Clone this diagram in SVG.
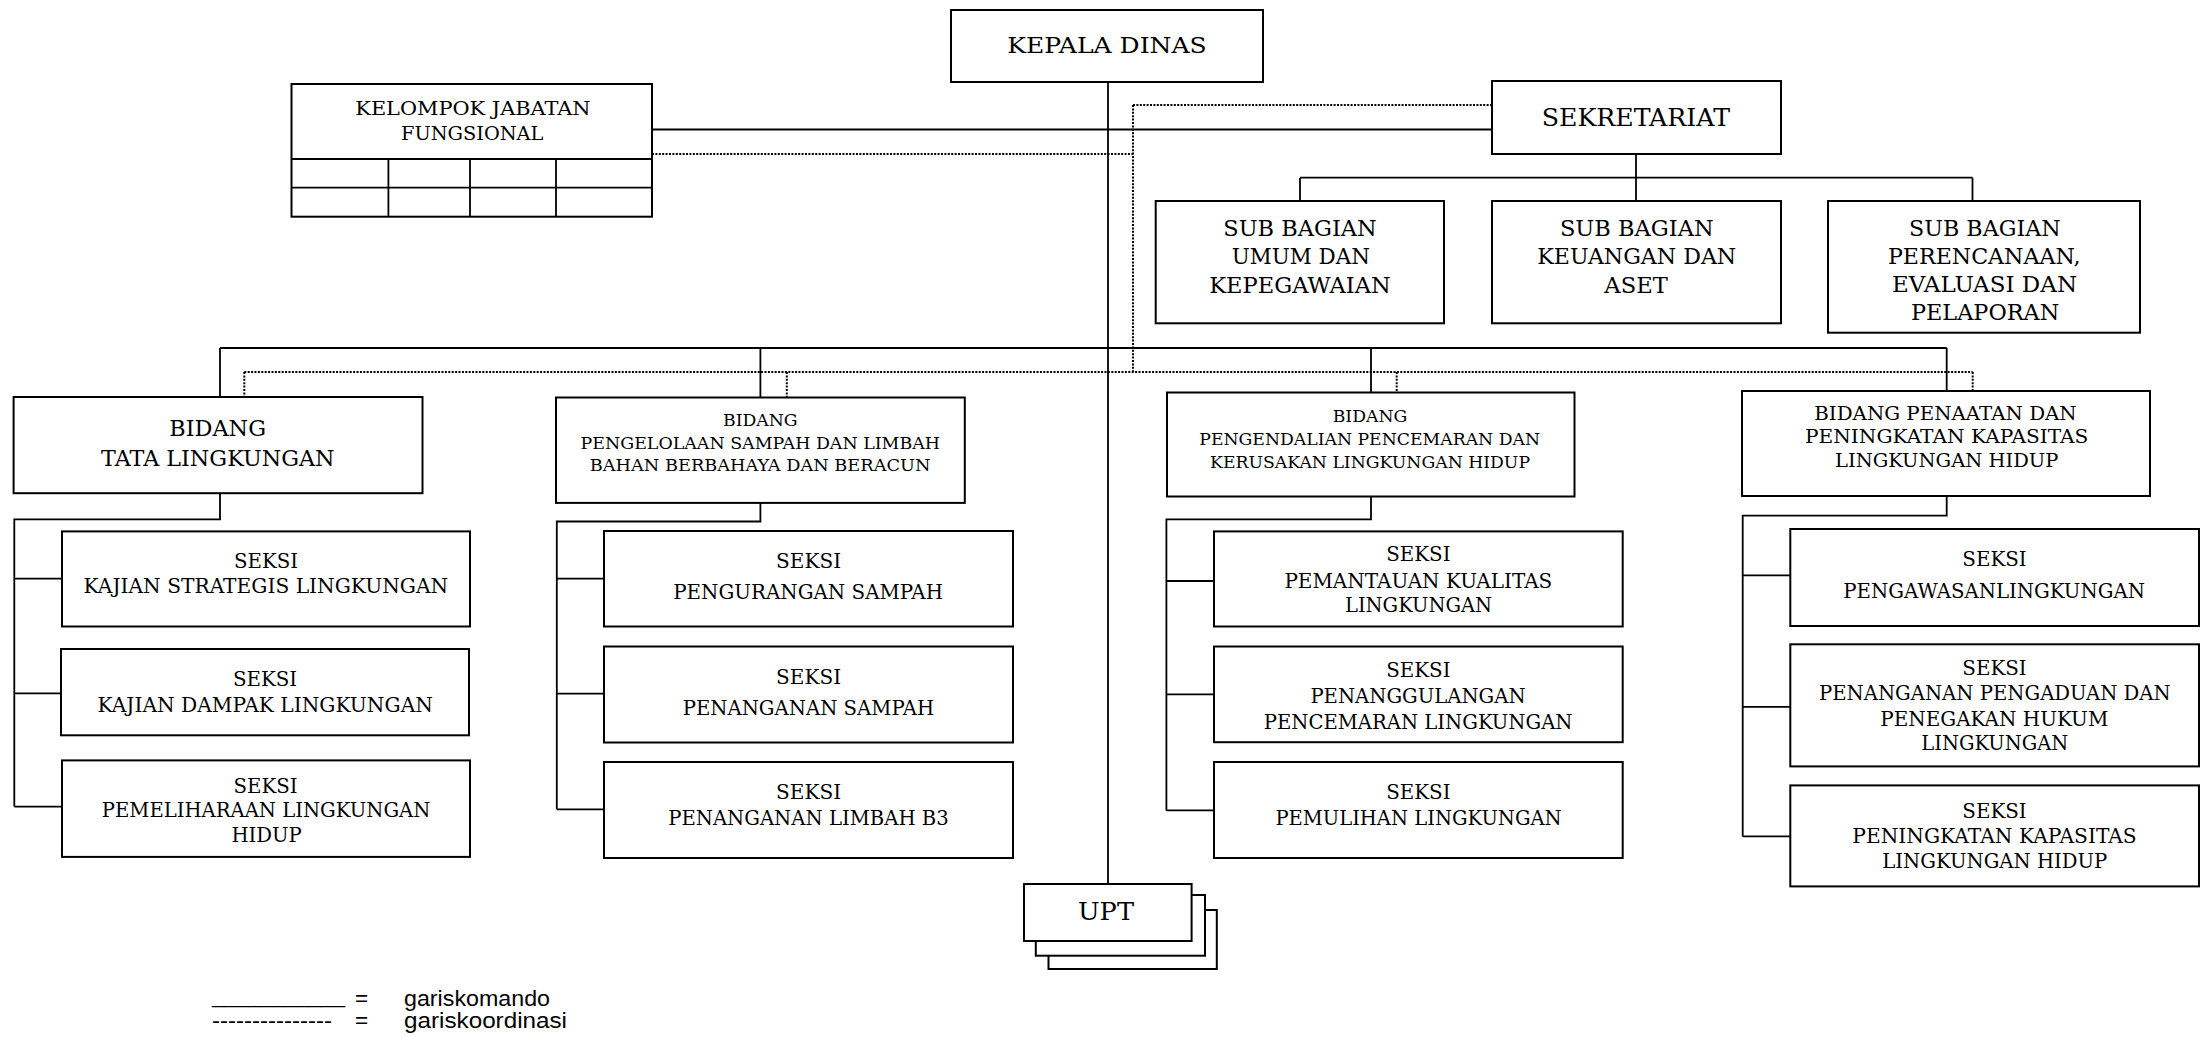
<svg xmlns="http://www.w3.org/2000/svg" width="2206" height="1037" viewBox="0 0 2206 1037">
<style>
.box{fill:#fff;stroke:#000;stroke-width:2}
.ln{fill:none;stroke:#000;stroke-width:1.8}
.dt{fill:none;stroke:#000;stroke-width:2;stroke-dasharray:2 1.4}
text{font-family:"DejaVu Serif","Liberation Serif",serif;fill:#000}
.f22{font-size:22px}.f25{font-size:25px}.f18{font-size:18.3px}.f215{font-size:21.5px}
.f217{font-size:21.7px}.f165{font-size:16.5px}.f185{font-size:18.5px}.f20{font-size:20px}.f24{font-size:24px}
.lg{font-family:"Liberation Sans",Arial,sans-serif;font-size:22.5px}
</style>
<rect x="0" y="0" width="2206" height="1037" fill="#fff"/>

<g id="connectors">
  <!-- command lines -->
  <path class="ln" d="M1108,82 V884"/>
  <path class="ln" d="M652,129.5 H1492"/>
  <path class="ln" d="M1636,154 V201 M1300,177.7 H1972.5 M1300,177.7 V201 M1972.5,177.7 V201"/>
  <path class="ln" d="M220,348 H1946.7 M220,348 V397 M760.4,348 V397.5 M1371,348 V393 M1946.7,348 V391"/>
  <path class="ln" d="M220,493 V519.4 H14.3 V806.6 M14.3,578.6 H62 M14.3,693.3 H61 M14.3,806.6 H62"/>
  <path class="ln" d="M760.4,503 V521.5 H556.8 V809.3 M556.8,578.6 H604 M556.8,693.6 H604 M556.8,809.3 H604"/>
  <path class="ln" d="M1371,496.5 V519.4 H1166.4 V810.4 M1166.4,581 H1214 M1166.4,694.3 H1214 M1166.4,810.4 H1214"/>
  <path class="ln" d="M1946.7,496 V515.7 H1742.7 V836.4 M1742.7,575.4 H1790.3 M1742.7,706.8 H1790.3 M1742.7,836.4 H1790.3"/>
  <!-- coordination lines -->
  <path class="dt" d="M652,154 H1133 M1133,105 V372 M1133,105 H1492"/>
  <path class="dt" d="M244.3,372 H1972.7 M244.3,372 V397 M786.8,372 V397.5 M1396.7,372 V393 M1972.7,372 V391"/>
</g>

<g id="kepala-dinas">
  <rect class="box" x="951" y="10" width="312" height="72"/>
  <text class="f22" x="1007.3" y="53.3" textLength="199.4" lengthAdjust="spacingAndGlyphs">KEPALA DINAS</text>
</g>

<g id="kelompok-jabatan-fungsional">
  <rect class="box" x="291.5" y="84" width="360.5" height="132.7"/>
  <path class="ln" d="M291.5,159 H652 M291.5,187.7 H652 M388.4,159 V216.7 M470,159 V216.7 M556,159 V216.7"/>
  <text class="f18" x="355.3" y="115" textLength="235.3" lengthAdjust="spacingAndGlyphs">KELOMPOK JABATAN</text>
  <text class="f18" x="401" y="140" textLength="142.4" lengthAdjust="spacingAndGlyphs">FUNGSIONAL</text>
</g>

<g id="sekretariat">
  <rect class="box" x="1492" y="81" width="289" height="73"/>
  <text class="f25" x="1541.7" y="125.7" textLength="188.3" lengthAdjust="spacingAndGlyphs">SEKRETARIAT</text>
</g>

<g id="sub-bagian-umum">
  <rect class="box" x="1155.7" y="201" width="288.3" height="122.3"/>
  <text class="f215" x="1223.3" y="235.7" textLength="153.4" lengthAdjust="spacingAndGlyphs">SUB BAGIAN</text>
  <text class="f215" x="1231.7" y="264" textLength="138.3" lengthAdjust="spacingAndGlyphs">UMUM DAN</text>
  <text class="f215" x="1209.3" y="293.3" textLength="181.4" lengthAdjust="spacingAndGlyphs">KEPEGAWAIAN</text>
</g>

<g id="sub-bagian-keuangan">
  <rect class="box" x="1492" y="201" width="289" height="122.3"/>
  <text class="f215" x="1559.9" y="235.5" textLength="153.8" lengthAdjust="spacingAndGlyphs">SUB BAGIAN</text>
  <text class="f215" x="1537.3" y="263.8" textLength="198.9" lengthAdjust="spacingAndGlyphs">KEUANGAN DAN</text>
  <text class="f215" x="1604.3" y="292.8" textLength="63.5" lengthAdjust="spacingAndGlyphs">ASET</text>
</g>

<g id="sub-bagian-perencanaan">
  <rect class="box" x="1828" y="201" width="312" height="131.7"/>
  <text class="f215" x="1909" y="235.5" textLength="151.7" lengthAdjust="spacingAndGlyphs">SUB BAGIAN</text>
  <text class="f215" x="1887.9" y="263.8" textLength="192.6" lengthAdjust="spacingAndGlyphs">PERENCANAAN,</text>
  <text class="f215" x="1892" y="292" textLength="185" lengthAdjust="spacingAndGlyphs">EVALUASI DAN</text>
  <text class="f215" x="1911" y="320.3" textLength="148.3" lengthAdjust="spacingAndGlyphs">PELAPORAN</text>
</g>

<g id="bidang-tata-lingkungan">
  <rect class="box" x="13.6" y="397" width="408.9" height="96.2"/>
  <text class="f217" x="169.3" y="435.7" textLength="96.7" lengthAdjust="spacingAndGlyphs">BIDANG</text>
  <text class="f217" x="101" y="466" textLength="233.6" lengthAdjust="spacingAndGlyphs">TATA LINGKUNGAN</text>
</g>

<g id="bidang-pengelolaan-sampah">
  <rect class="box" x="556" y="397.5" width="408.8" height="105.4"/>
  <text class="f165" x="723" y="426.4" textLength="74.6" lengthAdjust="spacingAndGlyphs">BIDANG</text>
  <text class="f165" x="580.6" y="448.8" textLength="359.4" lengthAdjust="spacingAndGlyphs">PENGELOLAAN SAMPAH DAN LIMBAH</text>
  <text class="f165" x="589.8" y="470.5" textLength="340.6" lengthAdjust="spacingAndGlyphs">BAHAN BERBAHAYA DAN BERACUN</text>
</g>

<g id="bidang-pengendalian-pencemaran">
  <rect class="box" x="1167" y="392.5" width="407.5" height="104"/>
  <text class="f165" x="1332.7" y="421.5" textLength="74.6" lengthAdjust="spacingAndGlyphs">BIDANG</text>
  <text class="f165" x="1199.3" y="444.5" textLength="340.7" lengthAdjust="spacingAndGlyphs">PENGENDALIAN PENCEMARAN DAN</text>
  <text class="f165" x="1210" y="467.5" textLength="320" lengthAdjust="spacingAndGlyphs">KERUSAKAN LINGKUNGAN HIDUP</text>
</g>

<g id="bidang-penaatan">
  <rect class="box" x="1742" y="391" width="408" height="105"/>
  <text class="f185" x="1814.3" y="420" textLength="262.4" lengthAdjust="spacingAndGlyphs">BIDANG PENAATAN DAN</text>
  <text class="f185" x="1805" y="443.3" textLength="283.3" lengthAdjust="spacingAndGlyphs">PENINGKATAN KAPASITAS</text>
  <text class="f185" x="1835" y="466.7" textLength="223.3" lengthAdjust="spacingAndGlyphs">LINGKUNGAN HIDUP</text>
</g>

<g id="seksi-kajian-strategis">
  <rect class="box" x="62" y="531.4" width="408" height="95.1"/>
  <text class="f20" x="234" y="567.6" textLength="64" lengthAdjust="spacingAndGlyphs">SEKSI</text>
  <text class="f20" x="83.6" y="593.4" textLength="364.6" lengthAdjust="spacingAndGlyphs">KAJIAN STRATEGIS LINGKUNGAN</text>
</g>
<g id="seksi-kajian-dampak">
  <rect class="box" x="61" y="649" width="408" height="86.3"/>
  <text class="f20" x="232.9" y="686.4" textLength="64.2" lengthAdjust="spacingAndGlyphs">SEKSI</text>
  <text class="f20" x="97.5" y="712.2" textLength="335.4" lengthAdjust="spacingAndGlyphs">KAJIAN DAMPAK LINGKUNGAN</text>
</g>
<g id="seksi-pemeliharaan">
  <rect class="box" x="62" y="760.4" width="408" height="96.5"/>
  <text class="f20" x="233.5" y="792.5" textLength="64" lengthAdjust="spacingAndGlyphs">SEKSI</text>
  <text class="f20" x="101.8" y="817.3" textLength="328.6" lengthAdjust="spacingAndGlyphs">PEMELIHARAAN LINGKUNGAN</text>
  <text class="f20" x="231.4" y="842.4" textLength="70.4" lengthAdjust="spacingAndGlyphs">HIDUP</text>
</g>

<g id="seksi-pengurangan-sampah">
  <rect class="box" x="604" y="531" width="409" height="95.5"/>
  <text class="f20" x="776.1" y="567.6" textLength="65" lengthAdjust="spacingAndGlyphs">SEKSI</text>
  <text class="f20" x="673.2" y="599.3" textLength="269.8" lengthAdjust="spacingAndGlyphs">PENGURANGAN SAMPAH</text>
</g>
<g id="seksi-penanganan-sampah">
  <rect class="box" x="604" y="646.5" width="409" height="96"/>
  <text class="f20" x="776.1" y="683.7" textLength="65" lengthAdjust="spacingAndGlyphs">SEKSI</text>
  <text class="f20" x="682.7" y="714.6" textLength="251.5" lengthAdjust="spacingAndGlyphs">PENANGANAN SAMPAH</text>
</g>
<g id="seksi-penanganan-limbah">
  <rect class="box" x="604" y="762" width="409" height="96"/>
  <text class="f20" x="776.1" y="799" textLength="65" lengthAdjust="spacingAndGlyphs">SEKSI</text>
  <text class="f20" x="668.2" y="824.8" textLength="280.5" lengthAdjust="spacingAndGlyphs">PENANGANAN LIMBAH B3</text>
</g>

<g id="seksi-pemantauan">
  <rect class="box" x="1214" y="531.4" width="408.7" height="95.1"/>
  <text class="f20" x="1386.2" y="560.7" textLength="64.3" lengthAdjust="spacingAndGlyphs">SEKSI</text>
  <text class="f20" x="1284.4" y="587.6" textLength="267.9" lengthAdjust="spacingAndGlyphs">PEMANTAUAN KUALITAS</text>
  <text class="f20" x="1345" y="612.4" textLength="147" lengthAdjust="spacingAndGlyphs">LINGKUNGAN</text>
</g>
<g id="seksi-penanggulangan">
  <rect class="box" x="1214" y="646.5" width="408.7" height="95.7"/>
  <text class="f20" x="1386.2" y="676.8" textLength="64.3" lengthAdjust="spacingAndGlyphs">SEKSI</text>
  <text class="f20" x="1310.4" y="702.6" textLength="215.2" lengthAdjust="spacingAndGlyphs">PENANGGULANGAN</text>
  <text class="f20" x="1263.8" y="728.8" textLength="308.7" lengthAdjust="spacingAndGlyphs">PENCEMARAN LINGKUNGAN</text>
</g>
<g id="seksi-pemulihan">
  <rect class="box" x="1214" y="762" width="408.7" height="96"/>
  <text class="f20" x="1386.2" y="799.4" textLength="64.3" lengthAdjust="spacingAndGlyphs">SEKSI</text>
  <text class="f20" x="1275.4" y="825.2" textLength="286.3" lengthAdjust="spacingAndGlyphs">PEMULIHAN LINGKUNGAN</text>
</g>

<g id="seksi-pengawasan">
  <rect class="box" x="1790.3" y="529" width="408.7" height="97"/>
  <text class="f20" x="1962.3" y="565.7" textLength="64.4" lengthAdjust="spacingAndGlyphs">SEKSI</text>
  <text class="f20" x="1843.3" y="597.9" textLength="301.7" lengthAdjust="spacingAndGlyphs">PENGAWASANLINGKUNGAN</text>
</g>
<g id="seksi-pengaduan">
  <rect class="box" x="1790.3" y="644.3" width="408.7" height="122.1"/>
  <text class="f20" x="1962.3" y="675.4" textLength="64.4" lengthAdjust="spacingAndGlyphs">SEKSI</text>
  <text class="f20" x="1819" y="700.4" textLength="351.7" lengthAdjust="spacingAndGlyphs">PENANGANAN PENGADUAN DAN</text>
  <text class="f20" x="1880.3" y="725.7" textLength="228" lengthAdjust="spacingAndGlyphs">PENEGAKAN HUKUM</text>
  <text class="f20" x="1921.3" y="750.4" textLength="147" lengthAdjust="spacingAndGlyphs">LINGKUNGAN</text>
</g>
<g id="seksi-peningkatan-kapasitas">
  <rect class="box" x="1790.3" y="785.4" width="408.7" height="101"/>
  <text class="f20" x="1962.3" y="817.5" textLength="64.4" lengthAdjust="spacingAndGlyphs">SEKSI</text>
  <text class="f20" x="1852.3" y="842.5" textLength="284.4" lengthAdjust="spacingAndGlyphs">PENINGKATAN KAPASITAS</text>
  <text class="f20" x="1882.3" y="867.5" textLength="225" lengthAdjust="spacingAndGlyphs">LINGKUNGAN HIDUP</text>
</g>

<g id="upt">
  <rect class="box" x="1048.5" y="910" width="168.3" height="59"/>
  <rect class="box" x="1035.8" y="895" width="169.2" height="60.7"/>
  <rect class="box" x="1024" y="884" width="167.6" height="57"/>
  <text class="f24" x="1078" y="920" textLength="56" lengthAdjust="spacingAndGlyphs">UPT</text>
</g>

<g id="legend">
  <text class="lg" x="212" y="1003" textLength="133" lengthAdjust="spacingAndGlyphs">___________</text>
  <text class="lg" x="355" y="1006">=</text>
  <text class="lg" x="404" y="1006" textLength="146" lengthAdjust="spacingAndGlyphs">gariskomando</text>
  <text class="lg" x="212" y="1028" textLength="120" lengthAdjust="spacingAndGlyphs">---------------</text>
  <text class="lg" x="355" y="1028">=</text>
  <text class="lg" x="404" y="1028" textLength="163" lengthAdjust="spacingAndGlyphs">gariskoordinasi</text>
</g>
</svg>
